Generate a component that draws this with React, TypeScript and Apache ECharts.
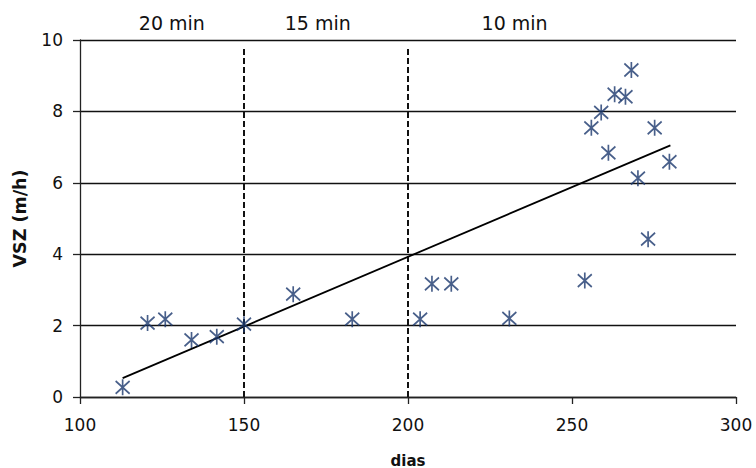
import React, { useEffect, useRef } from "react";
import * as echarts from "echarts";

const days = [113, 120.6, 126, 134, 141.7, 150, 165, 183, 203.7, 207.3, 213.2, 230.9, 253.9, 273.2, 268.1, 263, 266.3, 258.9, 255.9, 275.2, 261.1, 279.7, 270.1];
const vsz = [0.27, 2.07, 2.18, 1.6, 1.69, 2.04, 2.88, 2.18, 2.18, 3.17, 3.17, 2.2, 3.26, 4.42, 9.16, 8.48, 8.41, 7.97, 7.54, 7.54, 6.84, 6.59, 6.13];
const trendX = [113, 280];
const trendY = [0.53, 7.05];
const dividerX = [150, 200];
const dividerTop = 9.8;
const zoneLabels = ["20 min", "15 min", "10 min"];
const zoneCenters = [128, 172.5, 232.5];
const xTicks = [100, 150, 200, 250, 300];
const yTicks = [0, 2, 4, 6, 8, 10];

const FONT = "DejaVu Sans";

export default function App() {
  const ref = useRef<HTMLDivElement>(null);
  useEffect(() => {
    if (!ref.current) return;
    const chart = echarts.init(ref.current, null, { renderer: "svg" });
    const gridLeft = 80, gridRight = 20, gridTop = 40, gridBottom = 71;
    const W = 756;
    const plotW = W - gridLeft - gridRight;
    const xToPx = (v: number) => gridLeft + ((v - xTicks[0]) / (xTicks[xTicks.length - 1] - xTicks[0])) * plotW;

    const star = "path://M0,-10 L0,10 M-8.5,-8 L8.5,8 M-8.5,8 L8.5,-8";

    const series: any[] = [
      {
        type: "scatter",
        data: days.map((d, i) => [d, vsz[i]]),
        symbol: star,
        symbolSize: [14, 16],
        itemStyle: { color: "none", borderColor: "#1a376d", borderWidth: 1.8 },
        z: 5,
      },
      {
        type: "line",
        data: trendX.map((x, i) => [x, trendY[i]]),
        symbol: "none",
        lineStyle: { color: "#000", width: 1.8 },
        z: 4,
      },
    ];
    dividerX.forEach((x) => {
      series.push({
        type: "line",
        data: [[x, yTicks[0]], [x, dividerTop]],
        symbol: "none",
        lineStyle: { color: "#111", width: 2, type: [6, 3] },
        z: 3,
      });
    });

    chart.setOption({
      animation: false,
      backgroundColor: "#fff",
      grid: {
        left: gridLeft,
        right: gridRight,
        top: gridTop,
        bottom: gridBottom,
        containLabel: false,
        outerBoundsMode: "none",
      },
      xAxis: {
        type: "value",
        min: xTicks[0],
        max: xTicks[xTicks.length - 1],
        interval: 50,
        name: "dias",
        nameLocation: "middle",
        nameGap: 56,
        nameTextStyle: { fontFamily: FONT, fontSize: 15, color: "#111", fontWeight: "bold" },
        axisLine: { show: true, lineStyle: { color: "#222", width: 1.3 } },
        axisTick: { show: true, length: 7, lineStyle: { color: "#222", width: 1.3 } },
        axisLabel: { fontFamily: FONT, fontSize: 17, color: "#111", margin: 19 },
        splitLine: { show: false },
      },
      yAxis: {
        type: "value",
        min: yTicks[0],
        max: yTicks[yTicks.length - 1],
        interval: 2,
        name: "VSZ (m/h)",
        nameLocation: "middle",
        nameGap: 51,
        nameTextStyle: { fontFamily: FONT, fontSize: 17.5, color: "#111", fontWeight: "bold" },
        axisLine: { show: true, lineStyle: { color: "#222", width: 1.3 } },
        axisTick: { show: true, length: 7, lineStyle: { color: "#222", width: 1.3 } },
        axisLabel: { fontFamily: FONT, fontSize: 17, color: "#111", margin: 17 },
        splitLine: { show: true, lineStyle: { color: "#111", width: 1.3 } },
      },
      graphic: zoneLabels.map((t, i) => ({
        type: "text",
        x: xToPx(zoneCenters[i]),
        y: 23,
        style: {
          text: t,
          fontFamily: FONT,
          fontSize: 19,
          fill: "#111",
          align: "center",
          verticalAlign: "middle",
        },
      })),
      series,
    });
    return () => chart.dispose();
  }, []);
  return (
    <div
      ref={ref}
      style={{ position: "fixed", left: 0, top: 0, width: 756, height: 468, background: "#fff" }}
    />
  );
}
